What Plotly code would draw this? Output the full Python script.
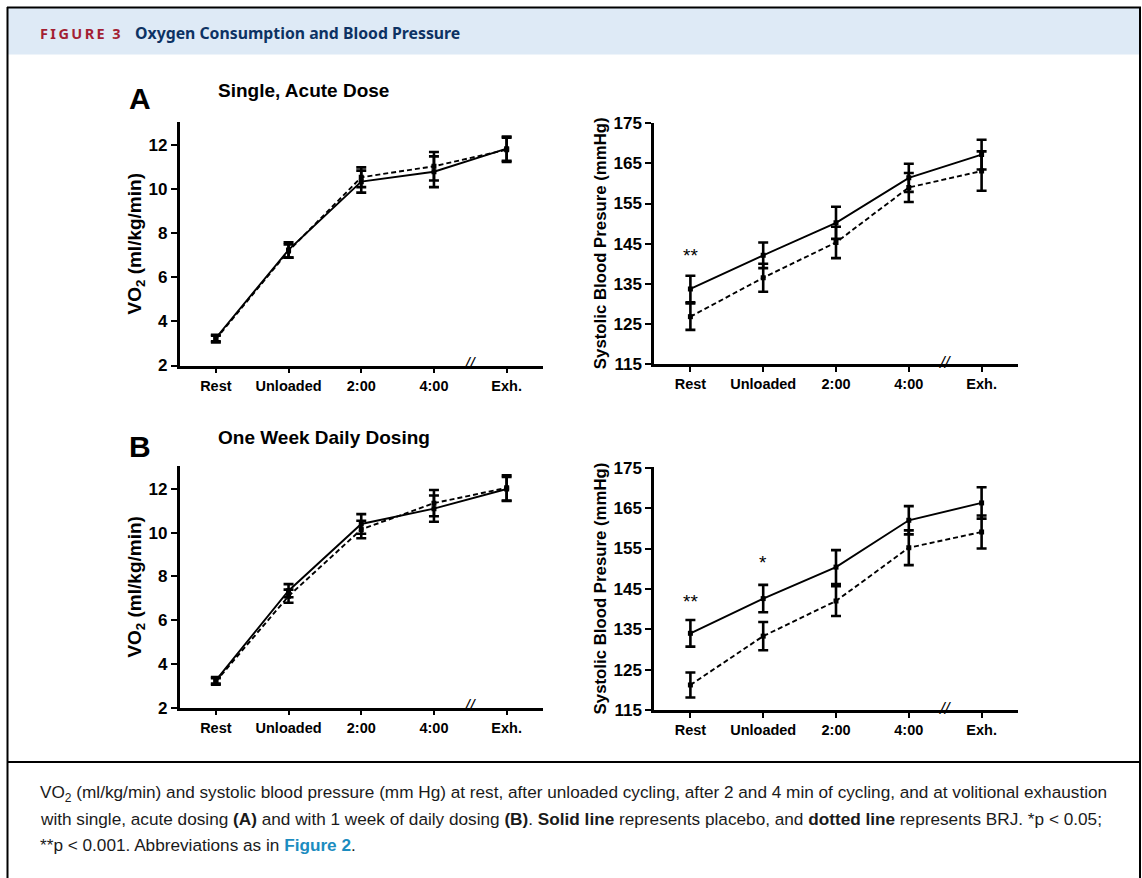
import plotly.graph_objects as go

# ---------------- data ----------------
categories = ["Rest", "Unloaded", "2:00", "4:00", "Exh."]

a_vo2_placebo = [3.25, 7.25, 10.35, 10.8, 11.85]
a_vo2_placebo_err = [0.15, 0.35, 0.5, 0.7, 0.55]
a_vo2_brj = [3.2, 7.2, 10.55, 11.05, 11.8]
a_vo2_brj_err = [0.15, 0.3, 0.45, 0.65, 0.55]

a_sbp_placebo = [133.7, 142.1, 150.2, 161.4, 167.2]
a_sbp_placebo_err = [3.3, 3.2, 4.0, 3.5, 3.7]
a_sbp_brj = [126.8, 136.5, 145.3, 159.0, 163.1]
a_sbp_brj_err = [3.3, 3.5, 3.9, 3.6, 4.9]

b_vo2_placebo = [3.25, 7.35, 10.4, 11.1, 12.0]
b_vo2_placebo_err = [0.15, 0.3, 0.45, 0.6, 0.55]
b_vo2_brj = [3.2, 7.1, 10.15, 11.35, 12.05]
b_vo2_brj_err = [0.15, 0.3, 0.4, 0.6, 0.58]

b_sbp_placebo = [134.0, 142.6, 150.4, 162.0, 166.3]
b_sbp_placebo_err = [3.3, 3.4, 4.2, 3.5, 3.9]
b_sbp_brj = [121.2, 133.3, 142.0, 155.2, 159.1]
b_sbp_brj_err = [3.1, 3.5, 3.7, 4.3, 4.1]

vo2_ticks = [2, 4, 6, 8, 10, 12]
sbp_ticks = [115, 125, 135, 145, 155, 165, 175]

# ---------------- figure ----------------
W, H = 1142, 878
xpos = list(range(len(categories)))
fig = go.Figure()

ARIAL = "Liberation Sans, Arial, sans-serif"


def add_pair(xa, ya, placebo, perr, brj, berr):
    for vals, errs, dash in ((brj, berr, "5px,3px"), (placebo, perr, "solid")):
        fig.add_trace(go.Scatter(
            x=xpos, y=vals, xaxis=xa, yaxis=ya, mode="lines+markers",
            line=dict(color="black", width=1.9, dash=dash),
            marker=dict(symbol="square", size=5, color="black"),
            error_y=dict(type="data", array=errs, visible=True, color="black",
                         thickness=2.6, width=5),
            showlegend=False, hoverinfo="skip"))


add_pair("x", "y", a_vo2_placebo, a_vo2_placebo_err, a_vo2_brj, a_vo2_brj_err)
add_pair("x2", "y2", a_sbp_placebo, a_sbp_placebo_err, a_sbp_brj, a_sbp_brj_err)
add_pair("x3", "y3", b_vo2_placebo, b_vo2_placebo_err, b_vo2_brj, b_vo2_brj_err)
add_pair("x4", "y4", b_sbp_placebo, b_sbp_placebo_err, b_sbp_brj, b_sbp_brj_err)


def px_x(v):
    return v / W


def px_y(v):
    return 1 - v / H


left_dom = [px_x(179.5), px_x(543)]
right_dom = [px_x(654), px_x(1018)]


def xaxis(anchor, dom):
    return dict(domain=dom, anchor=anchor, range=[-0.5, 4.5], tickvals=xpos,
                ticktext=categories, showline=True, linecolor="black", linewidth=2.5,
                ticks="outside", ticklen=5, tickwidth=2.2, tickcolor="black",
                showgrid=False, zeroline=False, fixedrange=True, automargin=False,
                tickfont=dict(family=ARIAL, size=14.5, color="black", weight="bold"))


def yaxis(anchor, dom, rng, ticks, title, tsize, standoff):
    return dict(domain=dom, anchor=anchor, range=rng, tickvals=ticks,
                showline=True, linecolor="black", linewidth=2.5,
                ticks="outside", ticklen=6, tickwidth=2.2, tickcolor="black",
                showgrid=False, zeroline=False, fixedrange=True, automargin=False,
                tickfont=dict(family=ARIAL, size=17, color="black", weight="bold"),
                title=dict(text=title, standoff=standoff,
                           font=dict(family=ARIAL, size=tsize, color="black", weight="bold")))


vo2_title = "VO<sub>2</sub> (ml/kg/min)"
sbp_title = "Systolic Blood Presure (mmHg)"

fig.update_layout(
    template="none",
    width=W, height=H, margin=dict(l=0, r=0, t=0, b=0, autoexpand=False),
    paper_bgcolor="white", plot_bgcolor="white",
    xaxis=xaxis("y", left_dom),
    yaxis=yaxis("x", [px_y(365.5), px_y(122)], [2, 13.06], vo2_ticks, vo2_title, 19, 0),
    xaxis2=xaxis("y2", right_dom),
    yaxis2=yaxis("x2", [px_y(364), px_y(122.5)], [115, 175.2], sbp_ticks, sbp_title, 16.8, 3),
    xaxis3=xaxis("y3", left_dom),
    yaxis3=yaxis("x3", [px_y(707.7), px_y(466)], [2, 13.05], vo2_ticks, vo2_title, 19, 0),
    xaxis4=xaxis("y4", right_dom),
    yaxis4=yaxis("x4", [px_y(710), px_y(467)], [115, 175.2], sbp_ticks, sbp_title, 16.8, 3),
)

# ---------------- frame & header ----------------
shapes = [
    dict(type="rect", xref="paper", yref="paper", x0=px_x(8), x1=px_x(1140),
         y0=px_y(8), y1=px_y(54.5), fillcolor="#deeaf6", line=dict(width=0), layer="below"),
    dict(type="line", xref="paper", yref="paper", x0=px_x(7), x1=px_x(1141),
         y0=px_y(7.5), y1=px_y(7.5), line=dict(color="black", width=2)),
    dict(type="line", xref="paper", yref="paper", x0=px_x(7.5), x1=px_x(7.5),
         y0=px_y(7), y1=-0.01, line=dict(color="black", width=2)),
    dict(type="line", xref="paper", yref="paper", x0=px_x(1140), x1=px_x(1140),
         y0=px_y(7), y1=-0.01, line=dict(color="black", width=2)),
    dict(type="line", xref="paper", yref="paper", x0=px_x(7), x1=px_x(1141),
         y0=px_y(762), y1=px_y(762), line=dict(color="black", width=2)),
]
fig.update_layout(shapes=shapes)

ann = []
hs = "\u2009"
ann.append(dict(xref="paper", yref="paper", x=px_x(38), y=px_y(33), xanchor="left",
                yanchor="middle", showarrow=False,
                text="<b>" + hs.join("FIGURE") + "\u00a0\u00a03</b>",
                font=dict(family="Noto Sans, sans-serif", size=14.5, color="#a31f34")))
ann.append(dict(xref="paper", yref="paper", x=px_x(133), y=px_y(33), xanchor="left",
                yanchor="middle", showarrow=False,
                text="<b>Oxygen Consumption and Blood Pressure</b>",
                font=dict(family="Noto Sans, sans-serif", size=15.8, color="#0d3263")))

# panel letters and titles
for letter, ly, title, ty in (("A", 98, "Single, Acute Dose", 90),
                              ("B", 446, "One Week Daily Dosing", 437)):
    ann.append(dict(xref="paper", yref="paper", x=px_x(127), y=px_y(ly), xanchor="left",
                    yanchor="middle", showarrow=False, text="<b>%s</b>" % letter,
                    font=dict(family=ARIAL, size=30, color="black")))
    ann.append(dict(xref="paper", yref="paper", x=px_x(216), y=px_y(ty), xanchor="left",
                    yanchor="middle", showarrow=False, text="<b>%s</b>" % title,
                    font=dict(family=ARIAL, size=19, color="black")))

# axis break marks
for xr, yr in (("x", "y"), ("x2", "y2"), ("x3", "y3"), ("x4", "y4")):
    ann.append(dict(xref=xr, yref=yr + " domain", x=3.5, y=0, xanchor="center",
                    yanchor="middle", showarrow=False, text="<i>//</i>", yshift=2,
                    font=dict(family=ARIAL, size=17, color="black")))

# significance markers
ann.append(dict(xref="x2", yref="y2", x=0, y=142, showarrow=False, text="**",
                font=dict(family=ARIAL, size=19, color="black")))
ann.append(dict(xref="x4", yref="y4", x=0, y=142, showarrow=False, text="**",
                font=dict(family=ARIAL, size=19, color="black")))
ann.append(dict(xref="x4", yref="y4", x=1, y=151.5, showarrow=False, text="*",
                font=dict(family=ARIAL, size=19, color="black")))

# caption
cap_font = dict(family=ARIAL, size=17.2, color="#1a1a1a")
lines = [
    "VO<sub>2</sub> (ml/kg/min) and systolic blood pressure (mm Hg) at rest, after unloaded cycling, "
    "after 2 and 4 min of cycling, and at volitional exhaustion",
    "with single, acute dosing <b>(A)</b> and with 1 week of daily dosing <b>(B)</b>. "
    "<b>Solid line</b> represents placebo, and <b>dotted line</b> represents BRJ. *p &lt; 0.05;",
    "**p &lt; 0.001. Abbreviations as in <span style='color:#1b8cc0'><b>Figure 2</b></span>.",
]
for i, t in enumerate(lines):
    ann.append(dict(xref="paper", yref="paper", x=px_x(38), y=px_y(793 + 26 * i),
                    xanchor="left", yanchor="middle", showarrow=False, text=t,
                    font=cap_font))

fig.update_layout(annotations=ann)

fig.write_html("out.html")
